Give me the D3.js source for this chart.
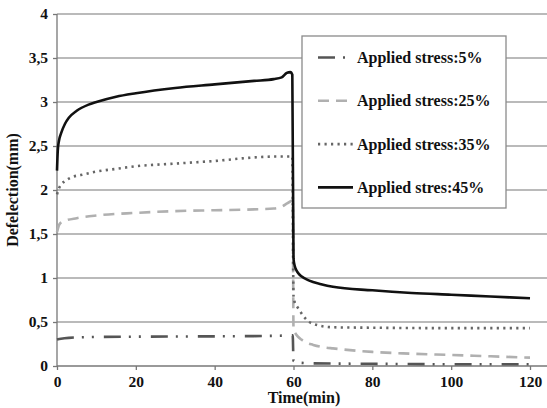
<!DOCTYPE html>
<html>
<head>
<meta charset="utf-8">
<script src="https://cdn.jsdelivr.net/npm/d3@7"></script>
<style>
  body { margin: 0; background: #fff; }
  text { font-family: "Liberation Serif", "Times New Roman", serif; font-weight: bold; fill: #111; }
</style>
</head>
<body>
<svg width="547" height="408"></svg>
<script>
// data
var yTicks = [0, 0.5, 1, 1.5, 2, 2.5, 3, 3.5, 4];
var xTicks = [0, 20, 40, 60, 80, 100, 120];

var t5 = [0, 1, 3, 10, 30, 50, 57, 59.8, 60, 61, 65, 80, 100, 120];
var v5 = [0.3, 0.31, 0.32, 0.33, 0.335, 0.34, 0.345, 0.35, 0.06, 0.04, 0.03, 0.025, 0.02, 0.02];

var t25 = [0, 0.5, 1, 2, 5, 10, 20, 30, 40, 50, 55, 57, 58.5, 59.8, 60, 60.5, 61, 62, 63, 65, 68, 70, 80, 90, 100, 110, 120];
var v25 = [1.52, 1.6, 1.63, 1.65, 1.68, 1.71, 1.74, 1.76, 1.77, 1.78, 1.79, 1.81, 1.85, 1.88, 0.42, 0.37, 0.34, 0.3, 0.27, 0.24, 0.21, 0.2, 0.16, 0.14, 0.125, 0.11, 0.095];

var t35 = [0, 0.5, 1, 2, 4, 6, 10, 15, 20, 30, 40, 50, 55, 59.7, 60, 60.2, 61, 62, 63, 64, 65, 66.5, 70, 80, 100, 120];
var v35 = [1.95, 2.02, 2.06, 2.1, 2.15, 2.17, 2.21, 2.24, 2.27, 2.3, 2.33, 2.37, 2.38, 2.38, 0.8, 0.74, 0.67, 0.6, 0.54, 0.5, 0.48, 0.46, 0.44, 0.435, 0.43, 0.43];

var t45 = [0, 0.2, 0.5, 1, 2, 3, 5, 8, 10, 15, 20, 30, 40, 50, 55, 57, 58.3, 59.2, 59.7, 60, 60.3, 60.7, 61.3, 62, 64, 67, 70, 80, 90, 100, 110, 120];
var v45 = [2.22, 2.45, 2.56, 2.64, 2.75, 2.82, 2.9, 2.97, 3.0, 3.06, 3.1, 3.16, 3.2, 3.24, 3.26, 3.28, 3.33, 3.34, 3.31, 1.22, 1.14, 1.09, 1.05, 1.02, 0.97, 0.93, 0.9, 0.86, 0.83, 0.81, 0.79, 0.77];

var seriesNames = ["Applied stress:5%", "Applied stress:25%", "Applied stress:35%", "Applied stres:45%"];

var series = [
  { name: seriesNames[0], t: t5, v: v5, color: "#555", dash: "17,8,2,8,2,10", width: 2.6 },
  { name: seriesNames[1], t: t25, v: v25, color: "#b0b0b0", dash: "11,7", width: 2.6 },
  { name: seriesNames[2], t: t35, v: v35, color: "#666", dash: "2.2,4.3", width: 2.6 },
  { name: seriesNames[3], t: t45, v: v45, color: "#111", dash: null, width: 2.6 }
];

var svg = d3.select("svg");
var width = +svg.attr("width");
var padding = { top: 14, left: 57, bottom: 366 };

var xScale = d3.scaleLinear().domain([0, 120]).range([padding.left, 530]);
var yScale = d3.scaleLinear().domain([0, 4]).range([padding.bottom, padding.top]);

var fmt = d => String(d).replace(".", ",");

// grid
svg.append("g")
  .selectAll("line")
  .data(yTicks.filter(d => d > 0))
  .enter().append("line")
    .attr("x1", padding.left).attr("x2", width)
    .attr("y1", d => yScale(d)).attr("y2", d => yScale(d))
    .style("stroke", "#a3a3a3").style("stroke-width", 1.3);

// axes
var yAxis = svg.append("g")
  .attr("transform", `translate(${padding.left},0)`)
  .call(d3.axisLeft(yScale).tickValues(yTicks).tickFormat(fmt).tickSize(4).tickPadding(5));

var xAxis = svg.append("g")
  .attr("transform", `translate(0,${padding.bottom})`)
  .call(d3.axisBottom(xScale).tickValues(xTicks).tickSize(4).tickPadding(6));

xAxis.select(".domain").attr("d", `M${padding.left},0H${width}`);
yAxis.select(".domain").attr("d", `M0,${padding.bottom}V${padding.top}`);

[xAxis, yAxis].forEach(a => {
  a.selectAll(".domain, line").style("stroke", "#777").style("stroke-width", 1.3);
  a.selectAll("text").style("font-size", "15.5px").style("font-family", "Liberation Serif").style("font-weight", "bold").style("fill", "#111");
});

// lines
var line = d3.line()
  .x(d => xScale(d[0]))
  .y(d => yScale(d[1]))
  .curve(d3.curveMonotoneX);

svg.append("g")
  .selectAll("path")
  .data(series)
  .enter().append("path")
    .attr("d", s => line(s.t.map((t, i) => [t, s.v[i]])))
    .style("fill", "none")
    .style("stroke", s => s.color)
    .style("stroke-width", s => s.width)
    .style("stroke-dasharray", s => s.dash)
    .style("stroke-linecap", "butt");

// legend
var legend = svg.append("g");
legend.append("rect")
  .attr("x", 302).attr("y", 36).attr("width", 204).attr("height", 172)
  .style("fill", "#fff").style("stroke", "#8a8a8a").style("stroke-width", 1.3);

var item = legend.selectAll(".item")
  .data(series)
  .enter().append("g")
    .attr("transform", (d, i) => `translate(0,${57.5 + i * 43.3})`);

item.append("line")
  .attr("x1", 318).attr("x2", 353)
  .style("stroke", d => d.color)
  .style("stroke-width", d => d.width)
  .style("stroke-dasharray", d => d.dash);

item.append("text")
  .attr("x", 357).attr("y", 5.5)
  .style("font-size", "16px")
  .text(d => d.name);

// axis titles
svg.append("text")
  .attr("x", 304).attr("y", 403)
  .attr("text-anchor", "middle")
  .style("font-size", "16px")
  .text("Time(min)");

svg.append("text")
  .attr("transform", "translate(18,190) rotate(-90)")
  .attr("text-anchor", "middle")
  .style("font-size", "16px")
  .text("Defelection(mm)");
</script>
</body>
</html>
